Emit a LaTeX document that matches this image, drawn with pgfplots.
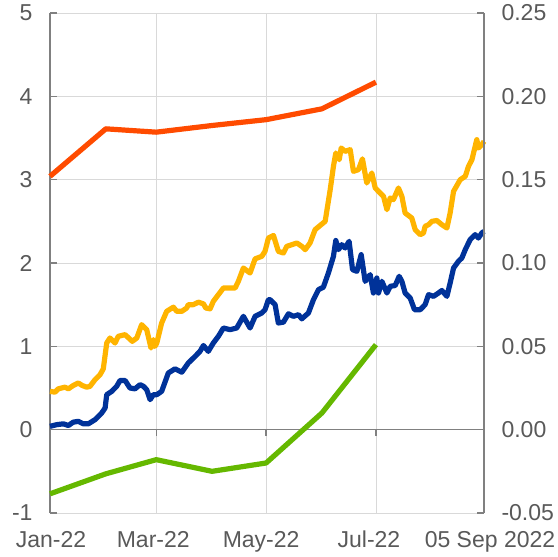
\documentclass[border=0pt]{standalone}
\usepackage{pgfplots}
\pgfplotsset{compat=1.18}
\usepackage{fontspec}
\setmainfont{Liberation Sans}
\definecolor{cOrange}{HTML}{FF4B00}
\definecolor{cYellow}{HTML}{FFB400}
\definecolor{cBlue}{HTML}{003299}
\definecolor{cGreen}{HTML}{65B800}
\definecolor{cGrid}{HTML}{D9D9D9}
\definecolor{cSpine}{HTML}{808080}
\definecolor{cText}{HTML}{595959}
\begin{document}
\begin{tikzpicture}
\begin{axis}[
  at={(0,0)}, anchor=south west,
  width=434pt, height=500pt, scale only axis,
  xmin=0, xmax=241, ymin=-1, ymax=5,
  axis x line=none,
  axis y line*=left,
  axis line style={draw=cSpine, line width=1.2pt},
  y axis line style={-},
  ytick={-1,0,1,2,3,4,5},
  yticklabels={-1,0,1,2,3,4,5},
  ytick style={draw=cSpine, line width=1.2pt},
  tick align=inside,
  major tick length=7pt,
  ymajorgrids, grid style={draw=cGrid, line width=0.8pt},
  yticklabel style={font=\fontsize{23}{26}\selectfont, text=cText, xshift=-14pt},
  clip=false,
]
% vertical grid lines and zero line
\draw[cGrid, line width=0.8pt] (axis cs:59,-1) -- (axis cs:59,5);
\draw[cGrid, line width=0.8pt] (axis cs:120,-1) -- (axis cs:120,5);
\draw[cGrid, line width=0.8pt] (axis cs:181,-1) -- (axis cs:181,5);
\draw[cSpine, line width=1.2pt] (axis cs:0,0) -- (axis cs:241,0);
\draw[cSpine, line width=1.2pt] (axis cs:59,0) -- ([yshift=-6pt]axis cs:59,0);
\draw[cSpine, line width=1.2pt] (axis cs:120,0) -- ([yshift=-6pt]axis cs:120,0);
\draw[cSpine, line width=1.2pt] (axis cs:181,0) -- ([yshift=-6pt]axis cs:181,0);
% x labels
\tikzset{xlab/.style={anchor=north, text=cText, font=\fontsize{23}{26}\selectfont, inner sep=0pt}}
\node[xlab] at ([yshift=-18pt, xshift=1pt]axis cs:0,-1) {Jan-22};
\node[xlab] at ([yshift=-18pt, xshift=-3pt]axis cs:59,-1) {Mar-22};
\node[xlab] at ([yshift=-18pt, xshift=-5pt]axis cs:120,-1) {May-22};
\node[xlab] at ([yshift=-18pt, xshift=-7pt]axis cs:181,-1) {Jul-22};
\node[xlab] at ([yshift=-18pt, xshift=6pt]axis cs:241,-1) {05 Sep 2022};

\addplot[cOrange, line width=5.2pt, line join=round] coordinates {
(0,3.04) (31,3.61) (59,3.57) (90,3.65) (120,3.72) (151,3.85) (181,4.17)};
\addplot[cGreen, line width=5.2pt, line join=round] coordinates {
(0,-0.77) (31,-0.53) (59,-0.36) (90,-0.50) (120,-0.40) (151,0.20) (181,1.02)};
\addplot[cYellow, line width=5.2pt, line join=round] coordinates {
(0,0.46) (2.8,0.45) (4.6,0.49) (8.3,0.51) (10.2,0.49) (12.9,0.53) (15.7,0.56) (17.9,0.53)
(20.4,0.51) (22.2,0.52) (25,0.60) (27.8,0.66) (29.6,0.73) (31.5,1.04) (33.3,1.10) (36.1,1.04)
(37.9,1.12) (41.7,1.14) (45.7,1.06) (48.2,1.10) (50.9,1.26) (53.7,1.20) (56.1,0.98) (57.4,1.08)
(58.3,1.00) (59.3,1.04) (62,1.28) (64.8,1.42) (68.5,1.47) (70.4,1.42) (73.2,1.42) (75.9,1.46)
(76.8,1.50) (79.6,1.50) (82.4,1.53) (85.2,1.51) (86.5,1.46) (88.9,1.45) (90.7,1.54) (93.5,1.62)
(96.3,1.70) (100,1.70) (102.8,1.70) (104.6,1.78) (107.4,1.94) (111.1,1.88) (113.9,2.05) (117.6,2.08)
(119.4,2.14) (121.3,2.30) (124.1,2.33) (126.8,2.14) (129.6,2.12) (131.5,2.20) (134.3,2.22) (137.1,2.24)
(139.8,2.20) (141.7,2.16) (144.4,2.24) (147.2,2.40) (150,2.45) (152.8,2.50) (155.6,2.88) (157.4,3.16)
(158.7,3.32) (160.6,3.24) (161.7,3.38) (163.9,3.34) (166.7,3.36) (168.5,3.10) (171.3,3.12) (173.5,3.25)
(175.9,2.96) (178.7,3.08) (180.6,2.90) (183.3,2.84) (185.2,2.80) (187.1,2.64) (188.9,2.78) (190.7,2.76)
(193.5,2.90) (195.4,2.80) (197.2,2.60) (200.9,2.54) (202.8,2.40) (205.6,2.34) (207.4,2.36) (208.3,2.44)
(210.2,2.46) (212.1,2.50) (214.8,2.51) (217.6,2.46) (220.4,2.42) (222.2,2.60) (224.1,2.86) (227.8,3.00)
(230.6,3.04) (232.4,3.16) (234.3,3.24) (237,3.48) (237.9,3.38) (239.8,3.42) (241,3.46)};
\addplot[cBlue, line width=5.2pt, line join=round] coordinates {
(0,0.04) (3.7,0.06) (7.4,0.07) (10.2,0.05) (12.9,0.09) (15.7,0.10) (18.5,0.07) (21.3,0.07)
(25,0.12) (28.7,0.20) (30.6,0.26) (31.5,0.42) (34.3,0.46) (37,0.52) (38.9,0.59) (41.7,0.59)
(44.4,0.50) (47.2,0.49) (50,0.54) (51.9,0.52) (53.7,0.48) (55.6,0.36) (57.4,0.42) (59.3,0.42)
(62,0.46) (65.7,0.68) (69.4,0.73) (73.2,0.69) (76.8,0.80) (80.6,0.88) (83.3,0.94) (85.2,1.01)
(87.9,0.94) (90.7,1.04) (93.5,1.12) (96.3,1.22) (100,1.20) (103.7,1.22) (107.4,1.36) (111.1,1.22)
(113.9,1.36) (117.6,1.40) (119.4,1.44) (121.3,1.56) (122.2,1.56) (125,1.50) (126.8,1.28) (129.6,1.29)
(132.4,1.39) (135.2,1.36) (138,1.38) (139.8,1.33) (143.5,1.40) (146.3,1.56) (149.1,1.68) (151.8,1.71)
(154.6,1.88) (157.4,2.08) (158.7,2.27) (160.2,2.16) (162,2.22) (163.9,2.18) (166.1,2.26) (168,1.92)
(170.4,1.90) (172.8,2.10) (175,1.78) (177.8,1.86) (179.6,1.64) (181.5,1.82) (182.4,1.64) (184.3,1.78)
(187.1,1.64) (188.9,1.72) (191.7,1.73) (193.9,1.84) (195.4,1.78) (197.2,1.64) (200,1.58) (202.4,1.44)
(205.6,1.44) (208.3,1.50) (210.2,1.62) (213,1.60) (215.7,1.64) (217.6,1.67) (220.4,1.60) (222.2,1.76)
(224.1,1.94) (226.8,2.02) (228.7,2.06) (230.6,2.16) (233.3,2.28) (236.1,2.34) (237.9,2.30) (239.8,2.36)
(241,2.38)};
\end{axis}
\begin{axis}[
  at={(0,0)}, anchor=south west,
  width=434pt, height=500pt, scale only axis,
  xmin=0, xmax=241, ymin=-0.05, ymax=0.25,
  axis x line=none,
  axis y line*=right,
  axis line style={draw=cSpine, line width=1.2pt},
  y axis line style={-},
  ytick={-0.05,0,0.05,0.1,0.15,0.2,0.25},
  yticklabels={-0.05,0.00,0.05,0.10,0.15,0.20,0.25},
  ytick style={draw=cSpine, line width=1.2pt},
  tick align=inside,
  major tick length=7pt,
  yticklabel style={font=\fontsize{23}{26}\selectfont, text=cText, xshift=14pt},
]
\addplot[draw=none] coordinates {(0,0)};
\end{axis}
\pgfresetboundingbox
\path[use as bounding box] (-50pt,-44pt) rectangle (508pt,513pt);
\end{tikzpicture}
\end{document}
